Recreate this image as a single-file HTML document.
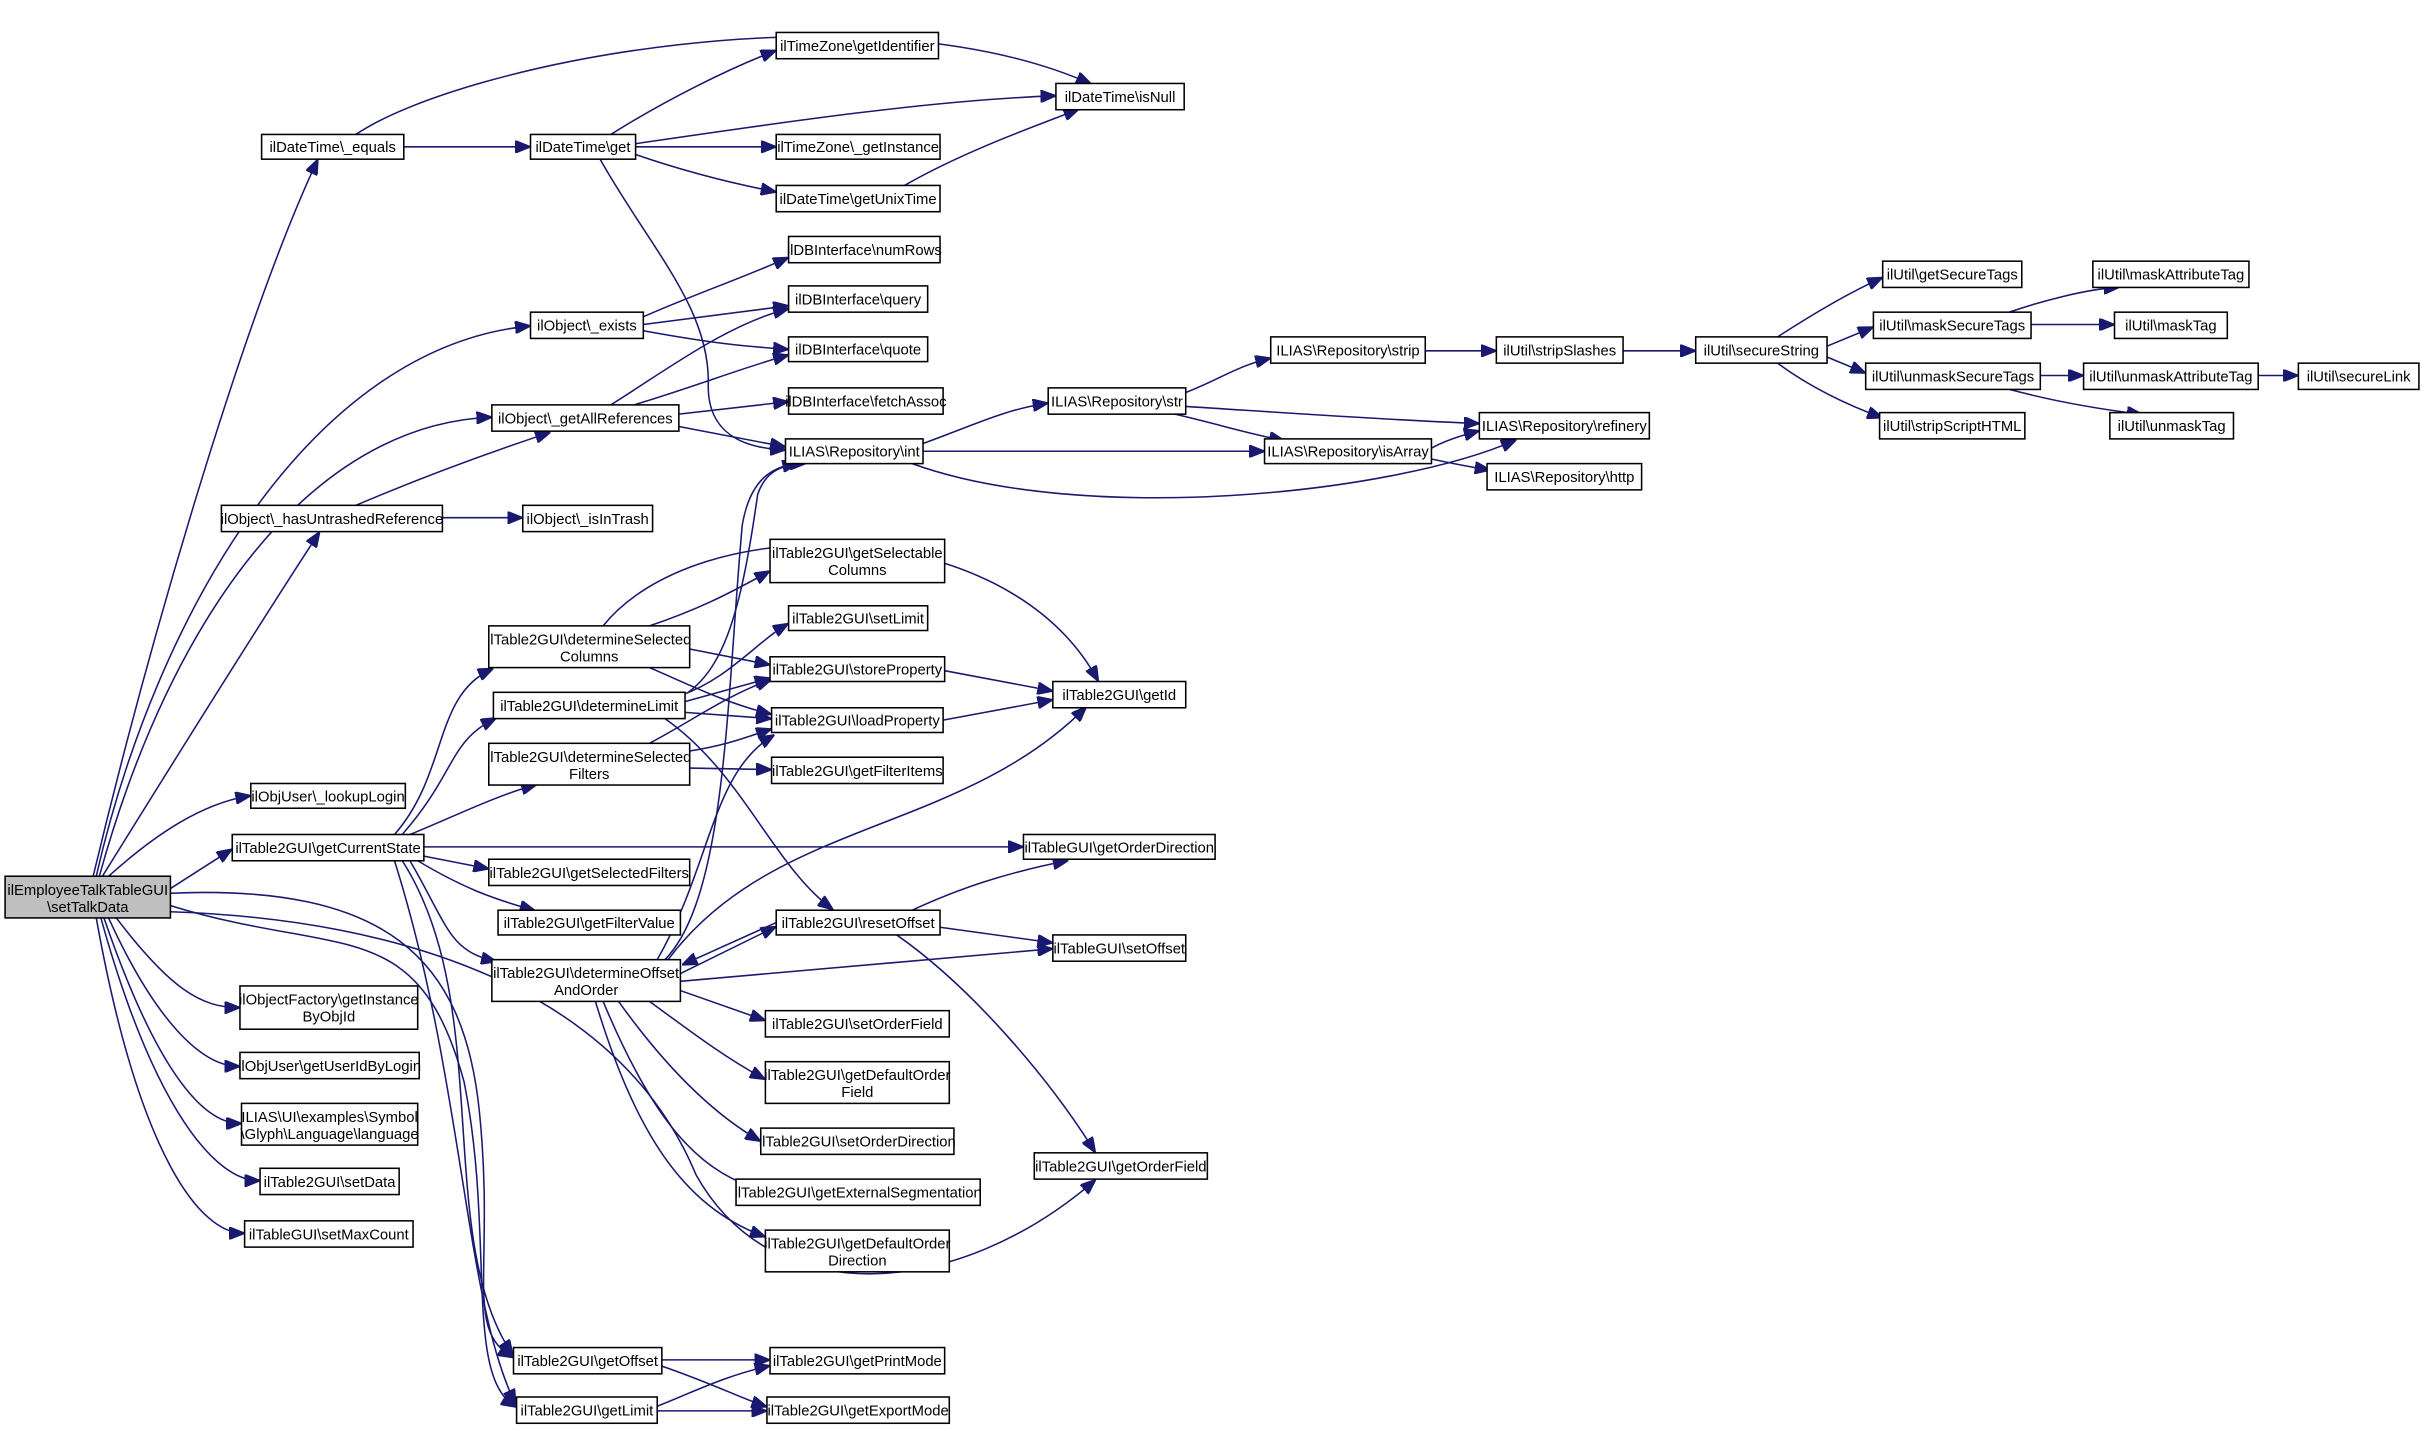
<!DOCTYPE html>
<html><head><meta charset="utf-8"><style>
html,body{margin:0;padding:0;background:#fff;width:2424px;height:1431px;overflow:hidden}
svg{display:block}
text{font-family:"Liberation Sans",Arial,sans-serif;font-size:9.6px;fill:#000;text-anchor:middle}
rect{fill:#fff;stroke:#000;stroke-width:1}
path{fill:none;stroke:#191970;stroke-width:1}
</style></head><body>
<svg width="2424" height="1431" viewBox="0 0 1568 926" xmlns="http://www.w3.org/2000/svg">
<defs><marker id="a" markerUnits="userSpaceOnUse" markerWidth="10" markerHeight="8" refX="9" refY="4" orient="auto"><path d="M0,0 L10,4 L0,8 Z" style="fill:#191970;stroke:#191970"/></marker></defs>
<g marker-end="url(#a)">
<path d="M60,567 C100,400 160,200 205,104"/>
<path d="M62,567 C100,400 200,225 342,211"/>
<path d="M64,567 C110,400 200,275 317,270"/>
<path d="M66,567 C120,480 170,400 206,345"/>
<path d="M70,567 C100,540 130,520 161,515"/>
<path d="M110,575 L149,550"/>
<path d="M75,594 C110,640 130,652 154,652"/>
<path d="M70,594 C100,660 130,690 154,690"/>
<path d="M67,594 C100,690 130,727 155,727"/>
<path d="M65,594 C100,720 140,764 167,764"/>
<path d="M62,594 C90,750 130,798 157,798"/>
<path d="M110,578 C250,572 300,620 310,720 C320,820 300,860 331,878"/>
<path d="M110,586 C220,620 270,590 300,700 C320,800 300,890 333,910"/>
<path d="M110,590 C260,595 400,640 450,760 C500,850 620,840 708,764"/>
<path d="M261,95 L342,95"/>
<path d="M230,87 C300,40 560,-10 705,54"/>
<path d="M395,87 C430,65 470,45 501,33"/>
<path d="M411,93 C500,80 600,65 682,62"/>
<path d="M411,95 L501,95"/>
<path d="M411,100 C440,110 470,118 501,124"/>
<path d="M388,103 C420,160 460,200 458,250 C458,280 480,290 507,291"/>
<path d="M585,120 C620,100 660,85 697,71"/>
<path d="M416,205 C450,190 480,180 509,167"/>
<path d="M416,210 L509,198"/>
<path d="M416,214 C460,222 480,224 509,226"/>
<path d="M395,262 C430,240 470,210 509,200"/>
<path d="M410,262 C450,250 480,238 509,230"/>
<path d="M439,268 L509,260"/>
<path d="M439,276 L507,289"/>
<path d="M230,327 C270,310 310,295 355,280"/>
<path d="M286,335 L337,335"/>
<path d="M597,287 C630,275 650,265 677,261"/>
<path d="M597,292 L817,292"/>
<path d="M590,300 C700,340 900,320 980,285"/>
<path d="M767,254 C790,245 800,237 821,232"/>
<path d="M767,263 C830,267 900,272 956,274"/>
<path d="M760,268 C790,275 805,280 830,285"/>
<path d="M922,227 L967,227"/>
<path d="M1050,227 L1096,227"/>
<path d="M1150,218 C1170,205 1195,190 1217,180"/>
<path d="M1182,224 L1211,212"/>
<path d="M1182,231 L1206,241"/>
<path d="M1150,235 C1170,250 1195,262 1217,270"/>
<path d="M1300,202 C1320,195 1350,187 1370,186"/>
<path d="M1314,210 L1367,210"/>
<path d="M1320,243 L1347,243"/>
<path d="M1300,252 C1330,260 1360,265 1385,268"/>
<path d="M1461,243 L1486,243"/>
<path d="M926,290 C935,285 945,282 956,279"/>
<path d="M926,297 C940,300 950,302 963,304"/>
<path d="M255,540 C290,500 280,450 318,433"/>
<path d="M260,540 C295,500 290,480 320,465"/>
<path d="M265,540 C290,530 320,515 346,508"/>
<path d="M274,548 L661,548"/>
<path d="M274,554 L315,562"/>
<path d="M270,557 C300,575 320,582 345,589"/>
<path d="M265,557 C290,600 290,615 320,622"/>
<path d="M260,557 C320,650 280,800 331,876"/>
<path d="M255,557 C300,700 300,840 333,908"/>
<path d="M390,405 C450,330 650,330 710,440"/>
<path d="M420,405 C450,395 470,385 497,370"/>
<path d="M446,420 L497,430"/>
<path d="M420,432 C450,445 470,455 498,462"/>
<path d="M440,450 C470,440 490,415 509,404"/>
<path d="M443,454 L497,439"/>
<path d="M443,461 L498,465"/>
<path d="M445,448 C470,430 480,390 490,320 C495,305 505,302 515,300"/>
<path d="M430,465 C480,500 500,560 538,588"/>
<path d="M420,481 C450,465 470,450 498,440"/>
<path d="M446,486 C470,482 480,478 498,472"/>
<path d="M446,497 L498,498"/>
<path d="M611,434 L680,447"/>
<path d="M610,466 L680,453"/>
<path d="M425,621 C460,560 460,500 500,476"/>
<path d="M430,621 C470,580 470,450 480,340 C485,310 500,300 520,300"/>
<path d="M432,621 C500,530 620,540 702,458"/>
<path d="M440,630 L501,600"/>
<path d="M440,635 L680,614"/>
<path d="M440,641 L494,660"/>
<path d="M420,648 C450,670 470,685 494,698"/>
<path d="M400,648 C430,690 460,720 491,738"/>
<path d="M390,648 C420,720 450,760 494,770"/>
<path d="M385,648 C410,730 440,780 494,800"/>
<path d="M502,597 L442,624"/>
<path d="M590,589 C620,575 650,565 690,557"/>
<path d="M608,600 L680,610"/>
<path d="M580,605 C630,640 680,700 708,745"/>
<path d="M428,880 L497,880"/>
<path d="M428,884 C460,895 480,905 495,910"/>
<path d="M425,910 C450,900 470,890 497,884"/>
<path d="M425,913 L495,913"/>
</g>
<g>
<rect x="3" y="567" width="107" height="27" style="fill:#bfbfbf"/><text x="56.5" y="579">ilEmployeeTalkTableGUI</text><text x="56.5" y="590">\setTalkData</text>
<rect x="169" y="87" width="92" height="16"/><text x="215" y="98.5">ilDateTime\_equals</text>
<rect x="343" y="87" width="68" height="16"/><text x="377" y="98.5">ilDateTime\get</text>
<rect x="502" y="21" width="105" height="17"/><text x="554.5" y="33">ilTimeZone\getIdentifier</text>
<rect x="683" y="54" width="83" height="17"/><text x="724.5" y="66">ilDateTime\isNull</text>
<rect x="502" y="87" width="106" height="16"/><text x="555" y="98.5">ilTimeZone\_getInstance</text>
<rect x="502" y="120" width="106" height="17"/><text x="555" y="132">ilDateTime\getUnixTime</text>
<rect x="510" y="153" width="98" height="17"/><text x="559" y="165">ilDBInterface\numRows</text>
<rect x="510" y="185" width="90" height="17"/><text x="555" y="197">ilDBInterface\query</text>
<rect x="510" y="218" width="90" height="16"/><text x="555" y="229.5">ilDBInterface\quote</text>
<rect x="510" y="251" width="100" height="17"/><text x="560" y="263">ilDBInterface\fetchAssoc</text>
<rect x="343" y="202" width="73" height="17"/><text x="379.5" y="214">ilObject\_exists</text>
<rect x="318" y="262" width="121" height="17"/><text x="378.5" y="274">ilObject\_getAllReferences</text>
<rect x="143" y="327" width="143" height="17"/><text x="214.5" y="339">ilObject\_hasUntrashedReference</text>
<rect x="338" y="327" width="84" height="17"/><text x="380" y="339">ilObject\_isInTrash</text>
<rect x="508" y="284" width="89" height="16"/><text x="552.5" y="295.5">ILIAS\Repository\int</text>
<rect x="678" y="251" width="89" height="17"/><text x="722.5" y="263">ILIAS\Repository\str</text>
<rect x="822" y="218" width="100" height="17"/><text x="872" y="230">ILIAS\Repository\strip</text>
<rect x="968" y="218" width="82" height="17"/><text x="1009" y="230">ilUtil\stripSlashes</text>
<rect x="1097" y="218" width="85" height="17"/><text x="1139.5" y="230">ilUtil\secureString</text>
<rect x="1218" y="169" width="90" height="17"/><text x="1263" y="181">ilUtil\getSecureTags</text>
<rect x="1212" y="202" width="102" height="17"/><text x="1263" y="214">ilUtil\maskSecureTags</text>
<rect x="1354" y="169" width="101" height="17"/><text x="1404.5" y="181">ilUtil\maskAttributeTag</text>
<rect x="1368" y="202" width="73" height="17"/><text x="1404.5" y="214">ilUtil\maskTag</text>
<rect x="1207" y="235" width="113" height="17"/><text x="1263.5" y="247">ilUtil\unmaskSecureTags</text>
<rect x="1348" y="235" width="113" height="17"/><text x="1404.5" y="247">ilUtil\unmaskAttributeTag</text>
<rect x="1487" y="235" width="78" height="17"/><text x="1526" y="247">ilUtil\secureLink</text>
<rect x="1216" y="267" width="94" height="17"/><text x="1263" y="279">ilUtil\stripScriptHTML</text>
<rect x="1365" y="267" width="80" height="17"/><text x="1405" y="279">ilUtil\unmaskTag</text>
<rect x="957" y="267" width="110" height="17"/><text x="1012" y="279">ILIAS\Repository\refinery</text>
<rect x="818" y="284" width="108" height="16"/><text x="872" y="295.5">ILIAS\Repository\isArray</text>
<rect x="962" y="300" width="100" height="17"/><text x="1012" y="312">ILIAS\Repository\http</text>
<rect x="498" y="349" width="113" height="28"/><text x="554.5" y="361">ilTable2GUI\getSelectable</text><text x="554.5" y="372">Columns</text>
<rect x="510" y="392" width="90" height="16"/><text x="555" y="403.5">ilTable2GUI\setLimit</text>
<rect x="316" y="405" width="130" height="27"/><text x="381" y="417">ilTable2GUI\determineSelected</text><text x="381" y="428">Columns</text>
<rect x="498" y="425" width="113" height="16"/><text x="554.5" y="436.5">ilTable2GUI\storeProperty</text>
<rect x="681" y="441" width="86" height="17"/><text x="724" y="453">ilTable2GUI\getId</text>
<rect x="319" y="448" width="124" height="17"/><text x="381" y="460">ilTable2GUI\determineLimit</text>
<rect x="499" y="458" width="111" height="16"/><text x="554.5" y="469.5">ilTable2GUI\loadProperty</text>
<rect x="316" y="481" width="130" height="27"/><text x="381" y="493">ilTable2GUI\determineSelected</text><text x="381" y="504">Filters</text>
<rect x="499" y="490" width="111" height="17"/><text x="554.5" y="502">ilTable2GUI\getFilterItems</text>
<rect x="162" y="507" width="100" height="16"/><text x="212" y="518.5">ilObjUser\_lookupLogin</text>
<rect x="150" y="540" width="124" height="17"/><text x="212" y="552">ilTable2GUI\getCurrentState</text>
<rect x="662" y="540" width="124" height="16"/><text x="724" y="551.5">ilTableGUI\getOrderDirection</text>
<rect x="316" y="556" width="130" height="17"/><text x="381" y="568">ilTable2GUI\getSelectedFilters</text>
<rect x="322" y="589" width="118" height="16"/><text x="381" y="600.5">ilTable2GUI\getFilterValue</text>
<rect x="502" y="589" width="106" height="16"/><text x="555" y="600.5">ilTable2GUI\resetOffset</text>
<rect x="681" y="605" width="86" height="17"/><text x="724" y="617">ilTableGUI\setOffset</text>
<rect x="318" y="621" width="122" height="27"/><text x="379" y="633">ilTable2GUI\determineOffset</text><text x="379" y="644">AndOrder</text>
<rect x="495" y="654" width="119" height="17"/><text x="554.5" y="666">ilTable2GUI\setOrderField</text>
<rect x="155" y="638" width="115" height="28"/><text x="212.5" y="650">ilObjectFactory\getInstance</text><text x="212.5" y="661">ByObjId</text>
<rect x="155" y="681" width="116" height="17"/><text x="213" y="693">ilObjUser\getUserIdByLogin</text>
<rect x="156" y="714" width="114" height="27"/><text x="213" y="726">ILIAS\UI\examples\Symbol</text><text x="213" y="737">\Glyph\Language\language</text>
<rect x="495" y="687" width="119" height="27"/><text x="554.5" y="699">ilTable2GUI\getDefaultOrder</text><text x="554.5" y="710">Field</text>
<rect x="492" y="730" width="125" height="17"/><text x="554.5" y="742">ilTable2GUI\setOrderDirection</text>
<rect x="669" y="746" width="112" height="17"/><text x="725" y="758">ilTable2GUI\getOrderField</text>
<rect x="168" y="756" width="90" height="17"/><text x="213" y="768">ilTable2GUI\setData</text>
<rect x="476" y="763" width="158" height="17"/><text x="555" y="775">ilTable2GUI\getExternalSegmentation</text>
<rect x="158" y="790" width="109" height="17"/><text x="212.5" y="802">ilTableGUI\setMaxCount</text>
<rect x="495" y="796" width="119" height="27"/><text x="554.5" y="808">ilTable2GUI\getDefaultOrder</text><text x="554.5" y="819">Direction</text>
<rect x="332" y="872" width="96" height="17"/><text x="380" y="884">ilTable2GUI\getOffset</text>
<rect x="498" y="872" width="113" height="17"/><text x="554.5" y="884">ilTable2GUI\getPrintMode</text>
<rect x="334" y="904" width="91" height="17"/><text x="379.5" y="916">ilTable2GUI\getLimit</text>
<rect x="496" y="904" width="118" height="17"/><text x="555" y="916">ilTable2GUI\getExportMode</text>
</g>
</svg>
</body></html>
